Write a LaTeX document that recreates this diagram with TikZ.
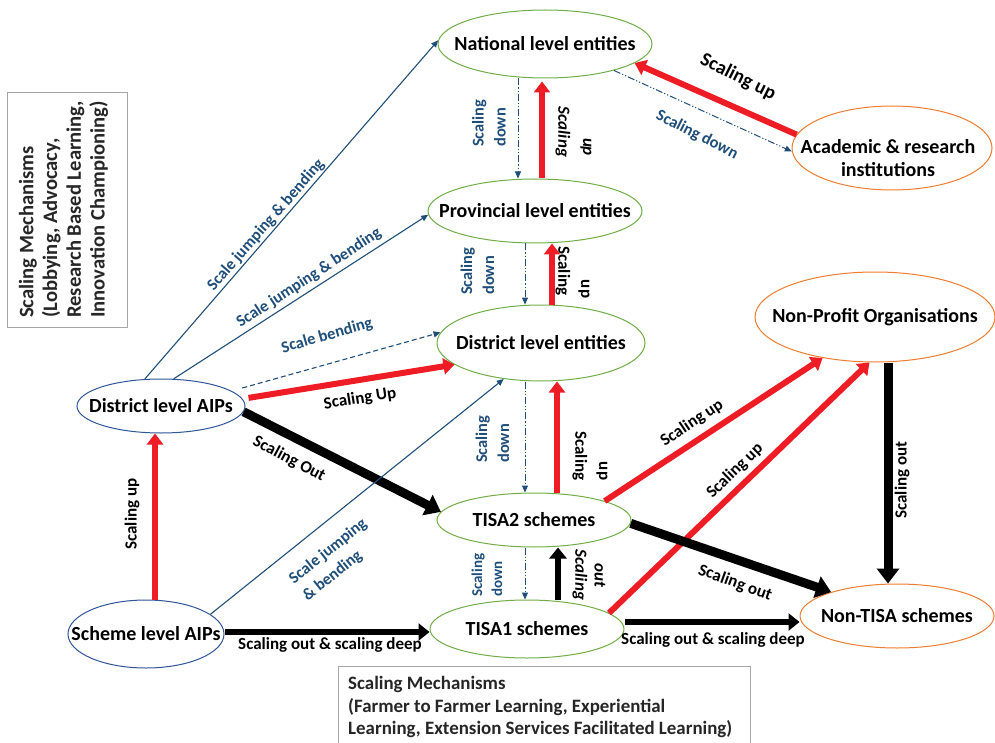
\documentclass[tikz,border=0pt]{standalone}
\usepackage{fontspec}
\setmainfont{Carlito}
\usetikzlibrary{arrows.meta,shapes.geometric}
\definecolor{cgreen}{HTML}{70AD47}
\definecolor{corange}{HTML}{ED7D31}
\definecolor{cblue}{HTML}{2F5597}
\definecolor{lblue}{HTML}{1F4E79}
\definecolor{cred}{HTML}{EE1C24}
\definecolor{cgray}{HTML}{A6A6A6}
\newcommand\zwbox[1]{\makebox[0pt]{#1}}
\begin{document}
\begin{tikzpicture}[x=1pt,y=-1pt,
 ent/.style={ellipse,draw,line width=1pt,inner sep=0pt,font=\bfseries\fontsize{20}{23}\selectfont},
 gent/.style={ent,draw=cgreen},
 oent/.style={ent,draw=corange},
 bent/.style={ent,draw=cblue},
 redarr/.style={draw=cred,line width=6pt,-{Triangle[length=11pt,width=16pt]}},
 blkarr/.style={draw=black,line width=6.5pt,-{Triangle[length=11pt,width=17pt]}},
 bigblk/.style={draw=black,line width=9pt,-{Triangle[length=15pt,width=22pt]}},
 thinb/.style={draw=lblue,line width=1.1pt,-{Triangle[length=7pt,width=6pt]}},
 dashb/.style={thinb,dash pattern=on 5pt off 3pt},
 ddotb/.style={thinb,line width=1pt,dash pattern=on 7pt off 2pt on 1.2pt off 2pt on 1.2pt off 2pt},
 blab/.style={font=\bfseries\fontsize{16.4}{22}\selectfont,text=lblue,inner sep=0pt},
 klab/.style={font=\bfseries\fontsize{17}{22}\selectfont,inner sep=0pt},
 ilab/.style={font=\bfseries\itshape\fontsize{17}{22}\selectfont,inner sep=0pt},
 boxtxt/.style={inner sep=0pt,align=left,text=black!85},
]
\useasboundingbox (0,0) rectangle (995,743);
\fill[white] (0,0) rectangle (995,743);

% entities
\node[gent,minimum width=214pt,minimum height=68pt] (nat) at (545,44) {\zwbox{National level entities}};
\node[gent,minimum width=214pt,minimum height=64pt] (prov) at (535,211) {\zwbox{Provincial level entities}};
\node[gent,minimum width=208pt,minimum height=76pt] (dist) at (541,343) {\zwbox{District level entities}};
\node[gent,minimum width=194pt,minimum height=54pt] (tisa2) at (534,520) {\zwbox{TISA2 schemes}};
\node[gent,minimum width=194pt,minimum height=58pt] (tisa1) at (527,629) {\zwbox{TISA1 schemes}};
\node[oent,minimum width=194pt,minimum height=64pt] (nontisa) at (897,616) {\zwbox{Non-TISA schemes}};
\node[oent,minimum width=240pt,minimum height=90pt] (npo) at (875,317) {\zwbox{Non-Profit Organisations}};
\node[oent,minimum width=200pt,minimum height=84pt] (acad) at (892,148) {};
\node[font=\bfseries\fontsize{20}{23}\selectfont,align=center,inner sep=0pt] (acadt) at (888,158) {Academic \& research\\institutions};
\node[bent,minimum width=168pt,minimum height=54pt] (daip) at (161,406) {\zwbox{District level AIPs}};
\node[bent,minimum width=156pt,minimum height=68pt] (saip) at (146,634) {\zwbox{Scheme level AIPs}};

% boxes
\node[draw=cgray,line width=1pt,minimum width=120pt,minimum height=234pt,inner sep=0pt] (lbox) at (67.5,210) {};
\node[boxtxt,font=\bfseries\fontsize{20.6}{23.7}\selectfont,rotate=90,anchor=west] (lboxt) at (63.5,318) {Scaling Mechanisms\\(Lobbying, Advocacy,\\Research Based Learning,\\Innovation Championing)};
\node[draw=cgray,line width=1pt,anchor=north west,minimum width=412pt,minimum height=100pt,inner sep=0pt] (bbox) at (338,666) {};
\node[boxtxt,font=\bfseries\fontsize{18.9}{22.5}\selectfont,anchor=north west] (bboxt) at (348,676.5) {Scaling Mechanisms\\(Farmer to Farmer Learning, Experiential\\Learning, Extension Services Facilitated Learning)};

% connectors from district level AIPs
\draw[thinb] (daip.121.6) -- (nat.178);
\draw[thinb] (daip.65) -- (prov.182);
\draw[dashb,shorten <=11pt] (daip.12) -- (dist.174);
\draw[redarr,shorten <=6pt] (daip.5.7) -- (dist.194.4);
\draw[bigblk] (daip.-4.2) -- (tisa2.175.7);

% from scheme level AIPs
\draw[redarr] ([xshift=9pt]saip.north) -- ([xshift=9pt]saip.north |- daip.south);
\draw[thinb] (saip.17.7) -- (dist.224.3);
\draw[blkarr] ([yshift=2pt]saip.east) -- ([yshift=2pt]saip.east -| tisa1.west);

% vertical chain
\draw[ddotb] ([xshift=-27pt]nat.south) -- ([xshift=-27pt]nat.south |- prov.north);
\draw[redarr,shorten >=3pt] ([xshift=7pt]prov.north) -- ([xshift=7pt]prov.north |- nat.south);
\draw[ddotb] ([xshift=-10pt]prov.south) -- ([xshift=-10pt]prov.south |- dist.north);
\draw[redarr] ([xshift=11pt]dist.north) -- ([xshift=11pt]dist.north |- prov.south);
\draw[ddotb] ([xshift=-16pt]dist.south) -- ([xshift=-16pt]dist.south |- tisa2.north);
\draw[redarr] ([xshift=23pt]tisa2.north) -- ([xshift=23pt]tisa2.north |- dist.south);
\draw[ddotb] ([xshift=-9pt]tisa2.south) -- ([xshift=-9pt]tisa2.south |- tisa1.north);
\draw[blkarr] ([xshift=31pt]tisa1.north) -- ([xshift=31pt]tisa1.north |- tisa2.south);

% academic
\draw[redarr] (acad.172.5) -- (nat.-12.9);
\draw[ddotb] (nat.-21.3) -- (acad.182.3);

% right side
\draw[redarr] (tisa2.15) -- (npo.218);
\draw[redarr] (tisa1.11.3) -- (npo.263.8);
\draw[bigblk] ([xshift=13pt]npo.south) -- ([xshift=13pt]npo.south |- nontisa.north);
\draw[bigblk] (tisa2.-2) -- (nontisa.160.5);
\draw[blkarr] ([yshift=7pt]tisa1.east) -- ([yshift=7pt]tisa1.east -| nontisa.west);

% labels
\node[blab,rotate=48.8] (l1) at (266,225) {Scale jumping \& bending};
\node[blab,rotate=33] (l2) at (309,278) {Scale jumping \& bending};
\node[blab,rotate=16] (l3) at (327,336) {Scale bending};
\node[klab,rotate=9] (l4) at (360,399) {Scaling Up};
\node[klab,rotate=-28] (l5) at (289,459) {Scaling Out};
\node[klab,rotate=90] (l6) at (132,514) {Scaling up};
\node[blab,rotate=38.7,align=left] (l7) at (335,560) {Scale jumping\\\& bending};
\node[klab] (l8) at (330,645) {Scaling out \& scaling deep};
\node[blab,rotate=90,anchor=west,align=left] (l9) at (489,147) {Scaling\\down};
\node[ilab,rotate=-90] (l10a) at (563,132) {Scaling};
\node[ilab,rotate=-90] (l10b) at (586,147) {up};
\node[blab,rotate=90,anchor=west,align=left] (l11) at (477.5,295) {Scaling\\down};
\node[klab,rotate=-90] (l12a) at (563,271) {Scaling};
\node[klab,rotate=-90] (l12b) at (584,289) {up};
\node[blab,rotate=90,anchor=west,align=left] (l13) at (492.5,463) {Scaling\\down};
\node[klab,rotate=-90] (l14a) at (580,456) {Scaling};
\node[klab,rotate=-90] (l14b) at (602,471) {up};
\node[blab,font=\bfseries\fontsize{15}{20}\selectfont,rotate=90,anchor=west,align=left] (l15) at (487,597) {Scaling\\down};
\node[ilab,rotate=-90] (l16a) at (580,575) {Scaling};
\node[ilab,rotate=-90] (l16b) at (600,575) {out};
\node[klab,font=\bfseries\fontsize{19.5}{22}\selectfont,rotate=-26.6] (l17) at (738,77) {Scaling up};
\node[blab,rotate=-27] (l18) at (697,135) {Scaling down};
\node[klab,rotate=33.7] (l19) at (692,423) {Scaling up};
\node[klab,rotate=44] (l20) at (735,471) {Scaling up};
\node[klab,rotate=90] (l21) at (902,480) {Scaling out};
\node[klab,rotate=-20] (l22) at (735,583) {Scaling out};
\node[klab] (l23) at (713,640) {Scaling out \& scaling deep};
\end{tikzpicture}
\end{document}
